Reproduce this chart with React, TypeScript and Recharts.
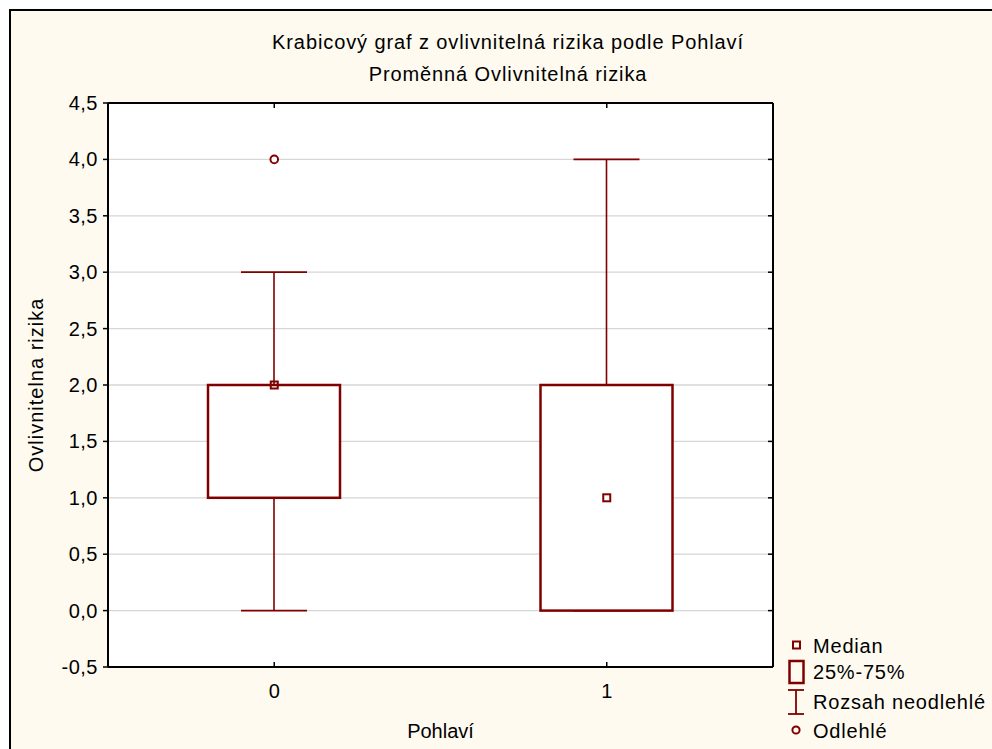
import React from 'react';
import { ComposedChart, Bar, Scatter, XAxis, YAxis, CartesianGrid } from 'recharts';

const categories = ['0', '1'];
const whiskerLow = [0, 0];
const quartile1 = [1, 0];
const medians = [2, 1];
const quartile3 = [2, 2];
const whiskerHigh = [3, 4];
const outliers: (number | null)[] = [4, null];
const yTicks = [-0.5, 0, 0.5, 1, 1.5, 2, 2.5, 3, 3.5, 4, 4.5];

const titleLine1 = 'Krabicový graf z ovlivnitelná rizika podle Pohlaví';
const titleLine2 = 'Proměnná Ovlivnitelná rizika';
const yLabel = 'Ovlivnitelna rizika';
const xLabel = 'Pohlaví';
const legendItems = ['Median', '25%-75%', 'Rozsah neodlehlé', 'Odlehlé'];

const data = categories.map((c, i) => ({
  cat: c,
  range: [whiskerLow[i], whiskerHigh[i]],
  q1: quartile1[i],
  q3: quartile3[i],
  median: medians[i],
  outlier: outliers[i],
}));

const RED = '#800000';
const FONT = '"Liberation Sans", Arial, sans-serif';
const FS = 20;
const LS = 0.9;

const fmt = (v: number) => v.toFixed(1).replace('.', ',');

const BoxShape = (props: any) => {
  const { x, y, width, height, payload } = props;
  if (!payload) return null;
  const [lo, hi] = payload.range;
  const top = Math.min(y, y + height);
  const bottom = Math.max(y, y + height);
  const toPx = (v: number) => top + ((hi - v) / (hi - lo)) * (bottom - top);
  const cx = x + width / 2;
  const capHalf = width / 4;
  const yq1 = toPx(payload.q1);
  const yq3 = toPx(payload.q3);
  return (
    <g>
      <line x1={cx} x2={cx} y1={top} y2={yq3} stroke={RED} strokeWidth={1.6} />
      <line x1={cx} x2={cx} y1={yq1} y2={bottom} stroke={RED} strokeWidth={1.6} />
      <line x1={cx - capHalf} x2={cx + capHalf} y1={top} y2={top} stroke={RED} strokeWidth={1.8} />
      <line x1={cx - capHalf} x2={cx + capHalf} y1={bottom} y2={bottom} stroke={RED} strokeWidth={1.8} />
      <rect x={x} y={yq3} width={width} height={yq1 - yq3} fill="#ffffff" stroke={RED} strokeWidth={2.5} />
    </g>
  );
};

const MedianShape = (props: any) => {
  const { cx, cy } = props;
  if (!Number.isFinite(cx) || !Number.isFinite(cy)) return null;
  return <rect x={cx - 3.5} y={cy - 3.5} width={7} height={7} fill="none" stroke={RED} strokeWidth={2} />;
};

const OutlierShape = (props: any) => {
  const { cx, cy, payload } = props;
  if (!payload || payload.outlier == null || !Number.isFinite(cy)) return null;
  return <circle cx={cx} cy={cy} r={3.8} fill="#ffffff" stroke={RED} strokeWidth={2} />;
};

const NoShape = () => null;

const BottomTick = (props: any) => {
  const { x, y, payload } = props;
  return (
    <g>
      <line x1={x} x2={x} y1={y} y2={y - 5} stroke="#000" strokeWidth={1.5} />
      <text x={x} y={y + 24} textAnchor="middle" dominantBaseline="central" fontSize={FS} fontFamily={FONT} fill="#000">
        {payload.value}
      </text>
    </g>
  );
};

const TopTick = (props: any) => {
  const { x, y } = props;
  return <line x1={x} x2={x} y1={y} y2={y + 5} stroke="#000" strokeWidth={1.5} />;
};

const RightTick = (props: any) => {
  const { x, y } = props;
  return <line x1={x} x2={x - 5} y1={y} y2={y} stroke="#000" strokeWidth={1.5} />;
};

const LeftTick = (props: any) => {
  const { x, y, payload } = props;
  return (
    <text x={x} y={y} textAnchor="end" dominantBaseline="central" fontSize={FS} fontFamily={FONT} letterSpacing={0.5} fill="#000">
      {fmt(payload.value)}
    </text>
  );
};

export default function App() {
  return (
    <div style={{ position: 'absolute', left: 0, top: 0, width: 992, height: 749, background: '#ffffff', overflow: 'hidden' }}>
      <div
        style={{
          position: 'absolute',
          left: 9,
          top: 9,
          width: 992,
          height: 749,
          background: '#fefaf0',
          borderTop: '2px solid #000',
          borderLeft: '2px solid #000',
        }}
      />
      <div style={{ position: 'absolute', left: 0, top: 0 }}>
        <ComposedChart
          width={992}
          height={749}
          data={data}
          margin={{ top: 102, right: 218, bottom: 42, left: 48 }}
        >
          <CartesianGrid vertical={false} stroke="#d6d6d6" strokeWidth={1.3} fill="#ffffff" fillOpacity={1} />
          <XAxis
            dataKey="cat"
            xAxisId="top"
            orientation="top"
            height={1}
            axisLine={{ stroke: '#000', strokeWidth: 2 }}
            tickLine={false}
            tickSize={0}
            tickMargin={0}
            tick={<TopTick />}
            interval={0}
          />
          <XAxis
            dataKey="cat"
            height={40}
            axisLine={{ stroke: '#000', strokeWidth: 2 }}
            tickLine={false}
            tickSize={0}
            tickMargin={0}
            tick={<BottomTick />}
            interval={0}
            label={{
              value: xLabel,
              content: (p: any) => {
                const vb = p.viewBox;
                return (
                  <text x={vb.x + vb.width / 2} y={731} textAnchor="middle" dominantBaseline="central" fontSize={FS} fontFamily={FONT} fill="#000">
                    {xLabel}
                  </text>
                );
              },
            }}
          />
          <YAxis
            type="number"
            domain={[-0.5, 4.5]}
            ticks={yTicks}
            interval={0}
            width={60}
            axisLine={{ stroke: '#000', strokeWidth: 2 }}
            tickLine={{ stroke: '#000', strokeWidth: 1.5 }}
            tickSize={5}
            tickMargin={5}
            tick={<LeftTick />}
            allowDataOverflow
            label={{
              value: yLabel,
              content: (p: any) => {
                const vb = p.viewBox;
                const cy = vb.y + vb.height / 2;
                return (
                  <text x={36} y={cy} transform={`rotate(-90 36 ${cy})`} textAnchor="middle" dominantBaseline="central" fontSize={FS} fontFamily={FONT} letterSpacing={1} fill="#000">
                    {yLabel}
                  </text>
                );
              },
            }}
          />
          <YAxis
            yAxisId="right"
            orientation="right"
            type="number"
            domain={[-0.5, 4.5]}
            ticks={yTicks}
            interval={0}
            width={1}
            axisLine={{ stroke: '#000', strokeWidth: 2 }}
            tickLine={false}
            tickSize={0}
            tickMargin={0}
            tick={<RightTick />}
            allowDataOverflow
          />
          <Bar dataKey="range" barSize={132} shape={<BoxShape />} isAnimationActive={false} />
          <Scatter dataKey="median" shape={<MedianShape />} isAnimationActive={false} />
          <Scatter dataKey="outlier" shape={<OutlierShape />} isAnimationActive={false} />
          <Scatter dataKey="median" xAxisId="top" yAxisId="right" shape={<NoShape />} isAnimationActive={false} />
        </ComposedChart>
      </div>
      <svg width={992} height={749} style={{ position: 'absolute', left: 0, top: 0, pointerEvents: 'none' }}>
        <text x={508} y={42} textAnchor="middle" dominantBaseline="central" fontSize={FS} fontFamily={FONT} letterSpacing={LS} fill="#000">
          {titleLine1}
        </text>
        <text x={508} y={74} textAnchor="middle" dominantBaseline="central" fontSize={FS} fontFamily={FONT} letterSpacing={LS} fill="#000">
          {titleLine2}
        </text>
        <rect x={793} y={641.5} width={7} height={7} fill="none" stroke={RED} strokeWidth={2} />
        <rect x={789.5} y={661} width={14} height={22} fill="none" stroke={RED} strokeWidth={2.5} />
        <line x1={796} x2={796} y1={690} y2={714} stroke={RED} strokeWidth={1.8} />
        <line x1={788} x2={804} y1={690} y2={690} stroke={RED} strokeWidth={1.8} />
        <line x1={788} x2={804} y1={714} y2={714} stroke={RED} strokeWidth={1.8} />
        <circle cx={796} cy={730} r={3.6} fill="none" stroke={RED} strokeWidth={2} />
        {legendItems.map((t, i) => (
          <text key={t} x={813} y={[646, 672, 702, 731][i]} dominantBaseline="central" fontSize={FS} fontFamily={FONT} letterSpacing={0.8} fill="#000">
            {t}
          </text>
        ))}
      </svg>
    </div>
  );
}
